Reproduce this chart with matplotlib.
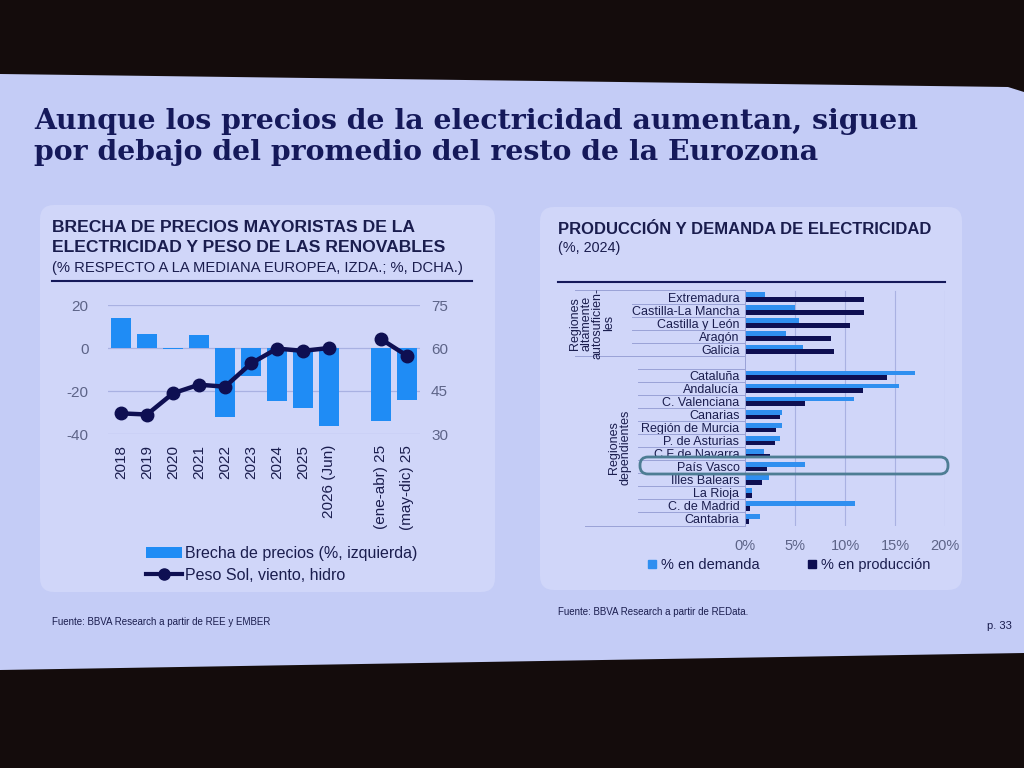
import numpy as np
import matplotlib
matplotlib.use("Agg")
import matplotlib.pyplot as plt
from matplotlib.patches import Polygon, FancyBboxPatch, Patch
from matplotlib.lines import Line2D
import matplotlib.transforms as mtrans

plt.rcParams['font.family'] = ['Liberation Sans', 'DejaVu Sans']
plt.rcParams['axes.unicode_minus'] = False

# ---------------- data ----------------
left_cats = ['2018', '2019', '2020', '2021', '2022', '2023', '2024', '2025',
             '2026 (Jun)', '', '(ene-abr) 25', '(may-dic) 25']
brecha = [13.8, 6.6, -0.3, 6.0, -32.3, -13.0, -24.6, -28.0, -36.5, np.nan, -33.8, -24.0]
peso = [37.2, 36.8, 44.2, 47.2, 46.5, 54.6, 59.8, 59.0, 60.0, np.nan, 63.1, 57.3]
left_yticks = [-40, -20, 0, 20]
right_yticks = [30, 45, 60, 75]

regions = ['Extremadura', 'Castilla-La Mancha', 'Castilla y León', 'Aragón', 'Galicia', '',
           'Cataluña', 'Andalucía', 'C. Valenciana', 'Canarias', 'Región de Murcia',
           'P. de Asturias', 'C.F de Navarra', 'País Vasco', 'Illes Balears', 'La Rioja',
           'C. de Madrid', 'Cantabria']
demanda = [2.0, 5.0, 5.4, 4.1, 5.8, np.nan, 17.0, 15.4, 10.9, 3.7, 3.7, 3.5, 1.9, 6.0, 2.4, 0.7, 11.0, 1.5]
produccion = [11.9, 11.9, 10.5, 8.6, 8.9, np.nan, 14.2, 11.8, 6.0, 3.5, 3.1, 3.0, 2.5, 2.2, 1.7, 0.7, 0.5, 0.35]
pct_ticks = [0, 5, 10, 15, 20]

# ---------------- style ----------------
W, H = 1024, 768
BG = '#140c0c'
SLIDE = '#c4ccf6'
PANEL = '#d0d6f9'
NAVY = '#15195a'
TXT = '#1a1d4e'
GREY = '#5d6488'
BAR_BLUE = '#1f8cf5'
DEM_BLUE = '#2f8ff0'
PROD_NAVY = '#0e0f52'
GRID = '#a9b1e2'

fig = plt.figure(figsize=(W / 100, H / 100), dpi=100, facecolor=BG)

def fx(x):
    return x / W

def fy(y):
    return 1 - y / H

# slide
slide = Polygon([(fx(0), fy(74)), (fx(1008), fy(87)), (fx(1024), fy(92)),
                 (fx(1024), fy(653)), (fx(0), fy(670))],
                closed=True, transform=fig.transFigure, facecolor=SLIDE, edgecolor='none', zorder=-3)
fig.patches.append(slide)

# panels (display pixel coords)
for (x0, y0, x1, y1) in [(40, 205, 495, 592), (540, 207, 962, 590)]:
    p = FancyBboxPatch((x0, H - y1), x1 - x0, y1 - y0, boxstyle='round,pad=0,rounding_size=14',
                       transform=None, facecolor=PANEL, edgecolor='none', zorder=-2)
    fig.patches.append(p)

# title
title_font = ['DejaVu Serif']
fig.text(fx(34), fy(129), 'Aunque los precios de la electricidad aumentan, siguen',
         fontsize=20.4, fontweight='bold', family=title_font, color=NAVY, va='baseline', ha='left')
fig.text(fx(34), fy(160), 'por debajo del promedio del resto de la Eurozona',
         fontsize=20.4, fontweight='bold', family=title_font, color=NAVY, va='baseline', ha='left')

fig.text(fx(52), fy(228), 'BRECHA DE PRECIOS MAYORISTAS DE LA', fontsize=12.6, fontweight='bold',
         color=TXT, va='center')
fig.text(fx(52), fy(248), 'ELECTRICIDAD Y PESO DE LAS RENOVABLES', fontsize=12.6, fontweight='bold',
         color=TXT, va='center')
fig.text(fx(52), fy(268), '(% RESPECTO A LA MEDIANA EUROPEA, IZDA.; %, DCHA.)', fontsize=10.6,
         color=TXT, va='center')
fig.add_artist(Line2D([fx(52), fx(472)], [fy(281), fy(281)], transform=fig.transFigure,
                      color=NAVY, lw=1.5))

fig.text(fx(558), fy(230), 'PRODUCCIÓN Y DEMANDA DE ELECTRICIDAD', fontsize=12.0, fontweight='bold',
         color=TXT, va='center')
fig.text(fx(558), fy(248), '(%, 2024)', fontsize=10.4, color=TXT, va='center')
fig.add_artist(Line2D([fx(558), fx(945)], [fy(282), fy(282)], transform=fig.transFigure,
                      color=NAVY, lw=1.5))

# ---------------- left chart ----------------
ax = fig.add_axes([fx(108), fy(434), fx(420) - fx(108), fy(305) - fy(434)])
ax.set_facecolor('none')
x = np.arange(len(left_cats))
ax.bar(x, brecha, width=0.8, color=BAR_BLUE, zorder=2)
ax.set_xlim(-0.5, len(left_cats) - 0.5)
ax.set_ylim(-40, 20)
ax.set_yticks(left_yticks)
for v in left_yticks:
    ax.axhline(v, color=GRID, lw=0.9, zorder=1)
ax.set_xticks(x)
ax.set_xticklabels(left_cats, rotation=90, fontsize=11, color=TXT)
ax.tick_params(axis='x', length=0, pad=8)
ax.tick_params(axis='y', length=0, labelsize=11, labelcolor=GREY, pad=14)
for s in ax.spines.values():
    s.set_visible(False)

ax2 = ax.twinx()
ax2.plot(x, peso, color=PROD_NAVY, lw=3.2, marker='o', markersize=9, zorder=3)
ax2.set_ylim(30, 75)
ax2.set_yticks(right_yticks)
ax2.tick_params(axis='y', length=0, labelsize=11, labelcolor=GREY, pad=8)
for s in ax2.spines.values():
    s.set_visible(False)

leg_handles = [Patch(facecolor=BAR_BLUE, edgecolor='none'),
               Line2D([], [], color=PROD_NAVY, lw=3, marker='o', markersize=8)]
fig.legend(leg_handles, ['Brecha de precios (%, izquierda)', 'Peso Sol, viento, hidro'],
           loc='upper left', bbox_to_anchor=(fx(140), fy(540)), frameon=False,
           prop={'size': 11.5}, labelcolor=TXT, handlelength=2.2, handletextpad=0.2,
           labelspacing=0.4, borderaxespad=0)

fig.text(fx(52), fy(622), 'Fuente: BBVA Research a partir de REE y EMBER', fontsize=7,
         color=TXT, va='center')

# ---------------- right chart ----------------
bx = fig.add_axes([fx(745), fy(525.5), fx(945) - fx(745), fy(290.5) - fy(525.5)])
bx.set_facecolor('none')
y = np.arange(len(regions))
h = 0.36
bx.barh(y - h / 2, demanda, height=h, color=DEM_BLUE, zorder=2)
bx.barh(y + h / 2, produccion, height=h, color=PROD_NAVY, zorder=2)
bx.set_ylim(len(regions) - 0.5, -0.5)
bx.set_xlim(0, 20)
bx.set_xticks(pct_ticks)
bx.set_xticklabels([f'{v}%' for v in pct_ticks])
for v in pct_ticks[1:]:
    bx.axvline(v, color=GRID, lw=0.8, zorder=1)
bx.set_yticks(y)
bx.set_yticklabels(regions, fontsize=9, color=TXT)
bx.tick_params(axis='y', length=0, pad=4)
bx.tick_params(axis='x', length=0, labelsize=10.5, labelcolor=GREY, pad=10)
for s in bx.spines.values():
    s.set_visible(False)

blend = mtrans.blended_transform_factory(bx.transAxes, bx.transData)
def xa(px):
    return (px - 745) / (945 - 745)

sep_kw = dict(transform=blend, color='#9aa2d6', lw=0.7, clip_on=False)
# group 1 borders
bx.add_line(Line2D([xa(575), 0], [-0.5, -0.5], **sep_kw))
bx.add_line(Line2D([xa(575), 0], [4.5, 4.5], **sep_kw))
for i in range(0, 4):
    bx.add_line(Line2D([xa(632), 0], [i + 0.5, i + 0.5], **sep_kw))
# group 2
bx.add_line(Line2D([xa(638), 0], [5.5, 5.5], **sep_kw))
for i in range(6, 17):
    bx.add_line(Line2D([xa(638), 0], [i + 0.5, i + 0.5], **sep_kw))
bx.add_line(Line2D([xa(585), 0], [17.5, 17.5], **sep_kw))
bx.add_line(Line2D([0, 0], [-0.5, 17.5], **sep_kw))

bx.text(xa(592), 2.0, 'Regiones\naltamente\nautosuficien-\nles', transform=blend, rotation=90,
        ha='center', va='center', fontsize=9, color=TXT, linespacing=0.95)
bx.text(xa(620), 11.5, 'Regiones\ndependientes', transform=blend, rotation=90,
        ha='center', va='center', fontsize=9, color=TXT, linespacing=0.95)

# highlight around País Vasco
hl = FancyBboxPatch((640, H - 474), 948 - 640, 17, boxstyle='round,pad=0,rounding_size=8',
                    transform=None, facecolor='none', edgecolor='#4d7d94', lw=2, zorder=5)
fig.patches.append(hl)

rh = [Line2D([], [], ls='none', marker='s', markersize=6, color=DEM_BLUE),
      Line2D([], [], ls='none', marker='s', markersize=6, color=PROD_NAVY)]
fig.legend(rh, ['% en demanda', '% en producción'], loc='upper left',
           bbox_to_anchor=(fx(642), fy(552)), ncol=2, frameon=False, prop={'size': 10.5},
           labelcolor=TXT, handlelength=0.6, handletextpad=0.3, columnspacing=3.3, borderaxespad=0)

fig.text(fx(558), fy(612), 'Fuente: BBVA Research a partir de REData.', fontsize=7,
         color=TXT, va='center')
fig.text(fx(1012), fy(626), 'p. 33', fontsize=8, color=TXT, va='center', ha='right')

fig.savefig('out.png', dpi=100, facecolor=BG)
